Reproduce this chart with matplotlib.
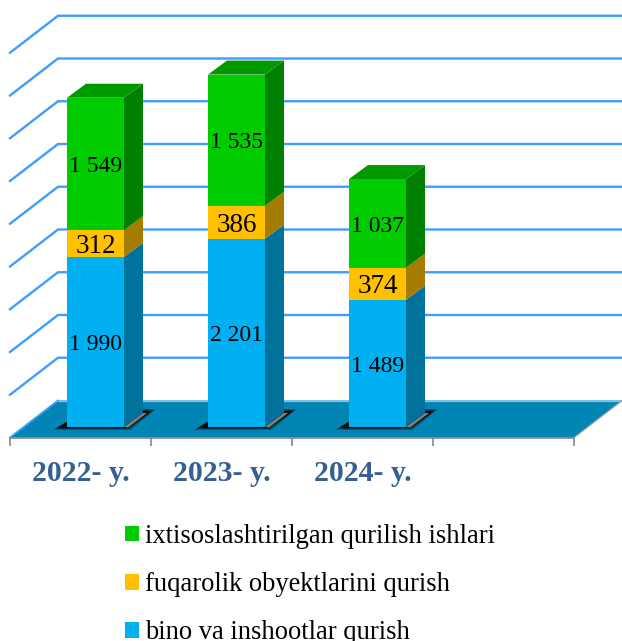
import matplotlib
matplotlib.use("Agg")
import matplotlib.pyplot as plt
from matplotlib.patches import Polygon

plt.rcParams['font.family'] = ['Liberation Serif', 'DejaVu Serif']

categories = ["2022- y.", "2023- y.", "2024- y.", ""]
years_shown = 3
series_names = ["bino va inshootlar qurish", "fuqarolik obyektlarini qurish",
                "ixtisoslashtirilgan qurilish ishlari"]
bino = [1990, 2201, 1489]
fuqarolik = [312, 386, 374]
ixtisos = [1549, 1535, 1037]
grid_values = [500, 1000, 1500, 2000, 2500, 3000, 3500, 4000, 4500]

front_colors = ["#00B0F0", "#FFC000", "#00CC00"]
side_colors = ["#00729C", "#A67C00", "#008000"]
top_colors = ["#008FC4", "#CC9A00", "#009900"]
floor_color = "#0085B5"
grid_color = "#3F9CFF"
label_color = "#376092"
W, H = 622, 641

PX_CAT = 141.0
PX_VAL = 42.75 / 500
X0_PX = 95.5
Y0_PX = 427.0

fig = plt.figure(figsize=(W / 100, H / 100), dpi=100)
ax = fig.add_axes([0, 0, 1, 1])
ax.set_xlim((0 - X0_PX) / PX_CAT, (W - X0_PX) / PX_CAT)
ax.set_ylim(-(H - Y0_PX) / PX_VAL, Y0_PX / PX_VAL)


def dx(px):
    return px / PX_CAT


def dy(px):
    return px / PX_VAL


fl = dx(10 - X0_PX)
fr = dx(574 - X0_PX)
ff = dy(427 - 437.5)
shift_x = dx(48)
shift_y = dy(37)

ax.add_patch(Polygon([(fl, ff), (fr, ff), (fr + shift_x, ff + shift_y), (fl + shift_x, ff + shift_y)],
                     closed=True, fc=floor_color, ec="none", zorder=2))
ax.plot([fl, fl + shift_x], [ff, ff + shift_y], color=grid_color, lw=1.3, zorder=3)
ax.plot([fl + shift_x, fr + shift_x], [ff + shift_y] * 2, color="#7FBEFF", lw=0.9, zorder=3)
ax.plot([fr, fr + shift_x], [ff, ff + shift_y], color="#8A9AA5", lw=0.9, zorder=3)

for v in grid_values:
    ax.plot([fl, fl + shift_x, fr + shift_x], [ff + v, ff + shift_y + v, ff + shift_y + v],
            color=grid_color, lw=1.7, solid_joinstyle="miter", zorder=1)

ax.spines[['top', 'left', 'right']].set_visible(False)
ax.spines['bottom'].set_position(('data', ff))
ax.spines['bottom'].set_bounds(fl, fr)
ax.spines['bottom'].set_color("#868686")
ax.spines['bottom'].set_linewidth(1.2)
ax.spines['bottom'].set_zorder(4)
ax.set_yticks([])
ax.set_xticks([fl + i for i in range(len(categories) + 1)])
ax.set_xticklabels([])
ax.tick_params(axis='x', which='major', length=5.5, width=1.2, color="#868686", direction='out')
ax.set_xticks([fl + i + 0.5 for i in range(years_shown)], minor=True)
ax.set_xticklabels(categories[:years_shown], minor=True, fontsize=21.5, fontweight='bold', color=label_color)
ax.tick_params(axis='x', which='minor', length=0, pad=16)

bar_w = 57 / PX_CAT
depth_x = dx(19)
depth_y = dy(14)
series = [bino, fuqarolik, ixtisos]
xs = list(range(years_shown))

for x in xs:
    hw = bar_w / 2
    for grow, alpha in ((4, 0.25), (2.5, 0.4), (1, 0.6), (0, 0.9)):
        g = dx(grow)
        gy = dy(grow * 0.5)
        ax.add_patch(Polygon([(x - hw - dx(10) - g, -dy(1) - gy), (x + hw + dx(3) + g, -dy(1) - gy),
                              (x + hw + depth_x + dx(9) + g, depth_y + dy(2) + gy),
                              (x - hw + depth_x, depth_y + dy(2) + gy)],
                             closed=True, fc="#0A0A0A", ec="none", alpha=alpha, zorder=5))
    r = x + hw
    ax.add_patch(Polygon([(r, 0), (r + dx(4), -dy(0.5)), (r + depth_x + dx(4), depth_y), (r + depth_x, depth_y)],
                         closed=True, fc="#8C8078", ec="none", zorder=5.5))

bottom = [0, 0, 0]
for vals, fc, sc, name in zip(series, front_colors, side_colors, series_names):
    for x, v, b in zip(xs, vals, bottom):
        r = x + bar_w / 2
        ax.add_patch(Polygon([(r, b), (r + depth_x, b + depth_y), (r + depth_x, b + v + depth_y), (r, b + v)],
                             closed=True, fc=sc, ec="none", zorder=6))
    bars = ax.bar(xs, vals, width=bar_w, bottom=bottom, color=fc, zorder=7, label=name)
    labels = [f"{v:,}".replace(",", " ") for v in vals]
    anns = ax.bar_label(bars, labels=labels, label_type='center', padding=-2, color='black', zorder=9)
    for a, v in zip(anns, vals):
        a.set_fontsize(17 if v >= 1000 else 19.5)
    bottom = [b + v for b, v in zip(bottom, vals)]

for x, t in zip(xs, bottom):
    l = x - bar_w / 2
    r = x + bar_w / 2
    ax.add_patch(Polygon([(l, t), (r, t), (r + depth_x, t + depth_y), (l + depth_x, t + depth_y)],
                         closed=True, fc=top_colors[2], ec="none", zorder=6))

handles, labs = ax.get_legend_handles_labels()
leg = ax.legend(handles[::-1], labs[::-1], loc='upper left', bbox_to_anchor=(125 / W, 1 - 524 / H),
                frameon=False, fontsize=19.1, labelspacing=0.87, handlelength=0.53, handleheight=0.53,
                handletextpad=0.22, borderpad=0, borderaxespad=0)

fig.savefig("out.png", dpi=100, facecolor="white")
